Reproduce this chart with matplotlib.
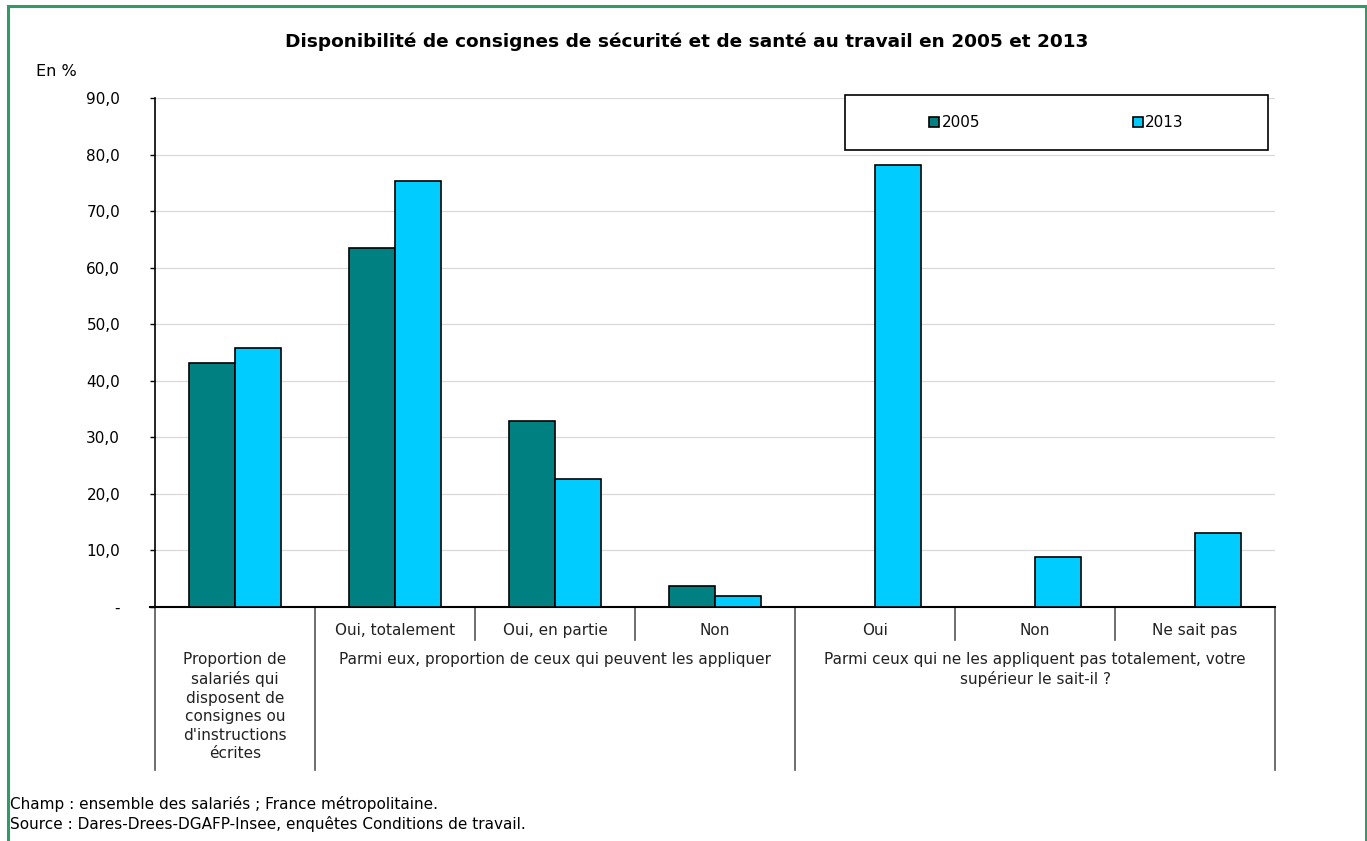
import matplotlib
matplotlib.use("Agg")
import matplotlib.pyplot as plt
from matplotlib.patches import Rectangle
import matplotlib.transforms as mtransforms
import numpy as np

plt.rcParams['font.family'] = ['DejaVu Sans']

sub_labels = ["", "Oui, totalement", "Oui, en partie", "Non", "Oui", "Non", "Ne sait pas"]
group_labels = [
    "Proportion de\nsalariés qui\ndisposent de\nconsignes ou\nd'instructions\nécrites",
    "Parmi eux, proportion de ceux qui peuvent les appliquer",
    "Parmi ceux qui ne les appliquent pas totalement, votre\nsupérieur le sait-il ?",
]
group_spans = [(0, 0), (1, 3), (4, 6)]
values_2005 = [43.2, 63.4, 32.8, 3.8, np.nan, np.nan, np.nan]
values_2013 = [45.8, 75.3, 22.6, 2.0, 78.1, 8.9, 13.0]
series_names = ["2005", "2013"]
yticks = [0, 10, 20, 30, 40, 50, 60, 70, 80, 90]
ytick_labels = ["-", "10,0", "20,0", "30,0", "40,0", "50,0", "60,0", "70,0", "80,0", "90,0"]
title = "Disponibilité de consignes de sécurité et de santé au travail en 2005 et 2013"
footnotes = ["Champ : ensemble des salariés ; France métropolitaine.",
             "Source : Dares-Drees-DGAFP-Insee, enquêtes Conditions de travail."]

W, H = 1367, 841
fig = plt.figure(figsize=(W / 100, H / 100), dpi=100)

# green outer border
fig.patches.append(Rectangle((8 / W, -0.01), (1366 - 8) / W, 1 - 6 / H + 0.01,
                             transform=fig.transFigure, fill=False,
                             edgecolor="#339966", linewidth=2.2))

ax_l, ax_r, ax_t, ax_b = 155, 1275, 98, 607
ax = fig.add_axes([ax_l / W, 1 - ax_b / H, (ax_r - ax_l) / W, (ax_b - ax_t) / H])

x = np.arange(len(sub_labels))
bw = 0.2875
c05, c13 = "#008080", "#00CCFF"
b1 = ax.bar(x - bw / 2, values_2005, bw, color=c05, edgecolor="black", linewidth=1.2, zorder=3, label=series_names[0])
b2 = ax.bar(x + bw / 2, values_2013, bw, color=c13, edgecolor="black", linewidth=1.2, zorder=3, label=series_names[1])

ax.set_xlim(-0.5, len(sub_labels) - 0.5)
ax.set_ylim(0, 90)
ax.set_yticks(yticks)
ax.set_yticklabels(ytick_labels, fontsize=11)
ax.yaxis.grid(True, color="#d9d9d9", linewidth=0.9, zorder=0)
ax.set_axisbelow(True)
ax.tick_params(axis="y", direction="out", length=3.6, width=1, pad=21.5, color="black")
for lbl in ax.get_yticklabels():
    lbl.set_horizontalalignment("right")
ax.set_xticks([])
for s in ["top", "right"]:
    ax.spines[s].set_visible(False)
ax.spines["left"].set_color("black")
ax.spines["bottom"].set_color("black")
ax.spines["left"].set_linewidth(1.2)
ax.spines["bottom"].set_linewidth(1.5)

ph = ax_b - ax_t
trans = mtransforms.blended_transform_factory(ax.transData, ax.transAxes)
short_y = -(640 - ax_b) / ph
long_y = -(770 - ax_b) / ph
group_edges = set()
for a, b in group_spans:
    group_edges.add(a - 0.5)
    group_edges.add(b + 0.5)
for k in range(len(sub_labels) + 1):
    xe = k - 0.5
    y1 = long_y if xe in group_edges else short_y
    ax.plot([xe, xe], [0, y1], transform=trans, color="#555555", linewidth=1.2, clip_on=False)
ax.plot([-0.5 - 5 / 160, -0.5], [0, 0], transform=trans, color="black", linewidth=1.5, clip_on=False)

sub_y = -(635 - ax_b) / ph
for i, lab in enumerate(sub_labels):
    if lab:
        ax.text(i, sub_y, lab, transform=trans, ha="center", va="baseline", fontsize=11, color="#222222")

grp_y = -(652 - ax_b) / ph
for (a, b), lab in zip(group_spans, group_labels):
    ax.text((a + b) / 2, grp_y, lab, transform=trans, ha="center", va="top", fontsize=11,
            color="#222222", linespacing=1.3)

fig.text(687 / W, 1 - 42 / H, title, ha="center", va="center", fontsize=13.3, fontweight="bold")
fig.text(36 / W, 1 - 71 / H, "En %", ha="left", va="center", fontsize=11.5)

# legend box
lx0, ly0, lx1, ly1 = 845, 95, 1268, 150
fig.patches.append(Rectangle((lx0 / W, 1 - ly1 / H), (lx1 - lx0) / W, (ly1 - ly0) / H,
                             transform=fig.transFigure, fill=True, facecolor="white",
                             edgecolor="black", linewidth=1.2, zorder=5))
leg = fig.legend(handles=[b1, b2], labels=series_names, ncol=2, frameon=False,
                 loc="center", bbox_to_anchor=((lx0 + lx1) / 2 / W, 1 - (ly0 + ly1) / 2 / H),
                 fontsize=11, handlelength=0.65, handleheight=0.65, handletextpad=0.15,
                 columnspacing=10.0)
leg.set_zorder(6)

fig.text(10 / W, 1 - 804 / H, footnotes[0], ha="left", va="center", fontsize=11)
fig.text(10 / W, 1 - 824 / H, footnotes[1], ha="left", va="center", fontsize=11)

fig.savefig("out.png", dpi=100)
